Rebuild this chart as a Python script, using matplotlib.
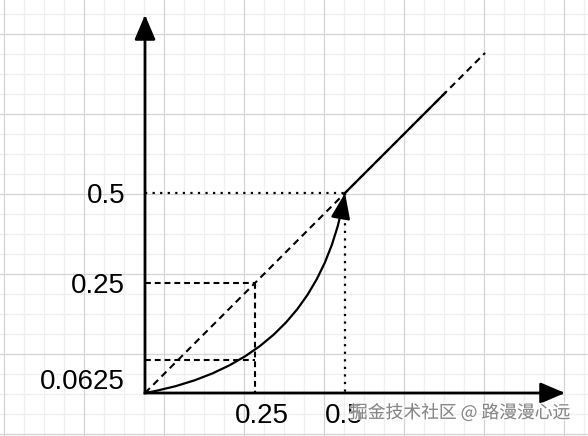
import numpy as np
import matplotlib
matplotlib.use("Agg")
import matplotlib.pyplot as plt
from matplotlib.patches import FancyArrowPatch
import matplotlib.patheffects as pe

# values shown on the sketch
x_ticks = [0.25, 0.5]
x_labels = ["0.25", "0.5"]
y_ticks = [0.0625, 0.25, 0.5]
y_labels = ["0.0625", "0.25", "0.5"]

curve_start = (0.0, 0.0)
curve_end = (0.5, 0.5)
identity_end = 0.925     # dashed y = x line
solid_from = 0.5         # solid part of y = x
solid_to = 0.8

watermark = "掘金技术社区 @ 路漫漫心远"

W, H = 588, 436
fig = plt.figure(figsize=(W / 100, H / 100), dpi=100)

# squared paper in the background
bg = fig.add_axes([0, 0, 1, 1])
bg.set_xlim(0, W)
bg.set_ylim(H, 0)
bg.axis("off")
for x in range(4, W, 20):
    if (x - 4) % 80:
        bg.axvline(x, color="#efefef", lw=0.9)
for y in range(14, H, 20):
    if (y - 34) % 80:
        bg.axhline(y, color="#efefef", lw=0.9)
for x in range(4, W, 80):
    bg.axvline(x, color="#d4d4d4", lw=0.9)
for y in range(34, H, 80):
    bg.axhline(y, color="#d4d4d4", lw=0.9)

# main sketch, slightly stretched scale like the drawing
P = 0.8625
fwd = lambda v: np.sign(v) * np.abs(v) ** P
inv = lambda u: np.sign(u) * np.abs(u) ** (1 / P)

ax = fig.add_axes([145 / W, (H - 393) / H, 420 / W, 378 / H])
ax.patch.set_alpha(0)
ax.set_xscale("function", functions=(fwd, inv))
ax.set_yscale("function", functions=(fwd, inv))
ax.set_xlim(0, 1.1816)
ax.set_ylim(0, 1.0457)
ax.axis("off")

# axes with arrow heads
akw = dict(arrowstyle="-|>,head_length=0.75,head_width=0.32", color="black",
           lw=2.0, mutation_scale=20, shrinkA=0, shrinkB=0, capstyle="projecting")
ax.annotate("", xy=(1, 0), xytext=(0, 0), xycoords="axes fraction",
            arrowprops=akw, annotation_clip=False)
ax.annotate("", xy=(0, 1), xytext=(0, 0), xycoords="axes fraction",
            arrowprops=akw, annotation_clip=False)

# y = x reference
ax.plot([0, identity_end], [0, identity_end], color="black", lw=1.5,
        ls=(0, (3.3, 2.3)), clip_on=False, zorder=3)
ax.plot([solid_from, solid_to], [solid_from, solid_to], color="black", lw=1.6,
        clip_on=False, zorder=3)

# guide lines
dot = (0, (1, 2.4))
dash = (0, (2.8, 1.9))
v5, v25, v0625 = y_ticks[2], y_ticks[1], y_ticks[0]
ax.plot([0, x_ticks[1]], [v5, v5], color="black", lw=1.6, ls=dot, clip_on=False)
ax.plot([x_ticks[1], x_ticks[1]], [v5, 0], color="black", lw=1.6, ls=dot, clip_on=False)
ax.plot([0, x_ticks[0]], [v25, v25], color="black", lw=1.5, ls=dash, clip_on=False)
ax.plot([x_ticks[0], x_ticks[0]], [v25, 0], color="black", lw=1.5, ls=dash, clip_on=False)
ax.plot([0, x_ticks[0]], [v0625, v0625], color="black", lw=1.5, ls=dash, clip_on=False)

# the curve
curve = FancyArrowPatch(curve_start, curve_end, connectionstyle="arc3,rad=0.35",
                        arrowstyle="-|>,head_length=0.8,head_width=0.3",
                        mutation_scale=20, lw=1.6, color="black",
                        shrinkA=0, shrinkB=0, zorder=4)
ax.add_patch(curve)

# labels
lab = dict(fontsize=20, family=["Liberation Sans", "DejaVu Sans"], color="black",
           textcoords="offset pixels", annotation_clip=False)
for v, s in zip(y_ticks, y_labels):
    dy = -29 if v == min(y_ticks) else -10
    ax.annotate(s, xy=(0, v), xycoords=ax.get_yaxis_transform(), xytext=(-20, dy),
                ha="right", va="baseline", **lab)
for v, s in zip(x_ticks, x_labels):
    ax.annotate(s, xy=(v, 0), xycoords=ax.get_xaxis_transform(), xytext=(-20, -30),
                ha="left", va="baseline", **lab)

# watermark overlaps the last tick label, as in the original
fig.text(350 / W, 1 - 418 / H, watermark, fontsize=12.8, color="#868686",
         family=["Noto Sans CJK SC", "DejaVu Sans"], ha="left", va="baseline",
         path_effects=[pe.withStroke(linewidth=2, foreground="white", alpha=0.6)])

fig.savefig("out.png", dpi=100)
